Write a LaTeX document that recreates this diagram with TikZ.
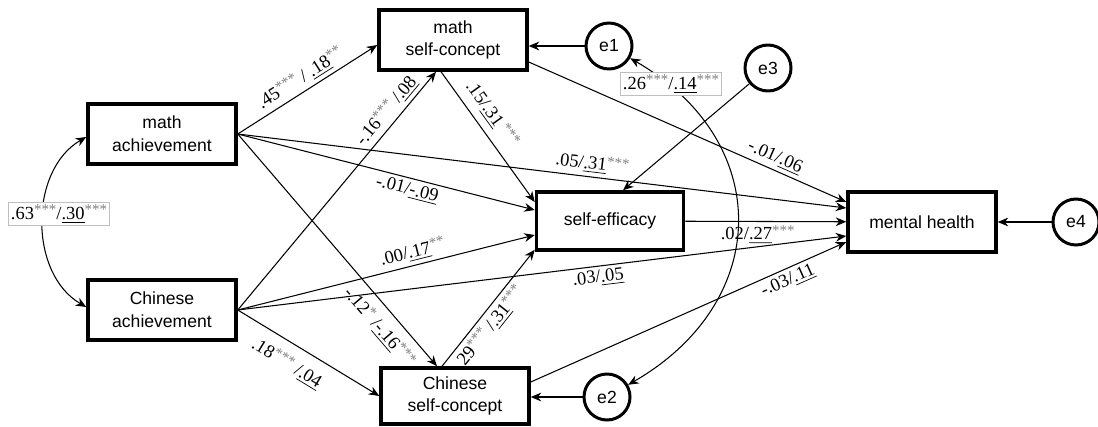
\documentclass[tikz,border=0pt]{standalone}
\usepackage{fontspec}
\setmainfont{Liberation Serif}
\setsansfont{Liberation Sans}
\usetikzlibrary{arrows.meta,calc}
\newcommand{\st}[1]{\raisebox{.55ex}{\fontsize{8.5}{9}\selectfont\textcolor{gray}{#1}}}
\newcommand{\ul}[1]{\underline{#1}}

\begin{document}
\begin{tikzpicture}[x=0.02cm,y=-0.02cm,
		var/.style={rectangle,draw,line width=2pt,minimum width=2.96cm,minimum height=1.2cm,
			align=center,inner sep=1pt,font=\sffamily\fontsize{10}{13}\selectfont},
		err/.style={circle,draw,line width=1.7pt,minimum size=0.92cm,inner sep=0pt,
			font=\sffamily\fontsize{10}{11}\selectfont},
		reg/.style={-{Stealth[length=6pt,width=5pt]},line width=0.6pt},
		cov/.style={{Stealth[length=6pt,width=5pt]}-{Stealth[length=6pt,width=5pt]},line width=0.6pt},
		coef/.style={sloped,inner sep=2pt,font=\fontsize{10.5}{12}\selectfont},
		covlbl/.style={draw=black!25,fill=white,line width=0.4pt,inner sep=1.5pt,
			font=\fontsize{10.5}{12}\selectfont}]
		\useasboundingbox (0,0) rectangle (1098,426);

		\node[var] (MA) at (162,134) {math\\achievement};
		\node[var] (CA) at (162,310) {Chinese\\achievement};
		\node[var] (MSC) at (453,40) {math\\self-concept};
		\node[var,minimum height=1.12cm] (CSC) at (455,396) {Chinese\\self-concept};
		\node[var,minimum width=2.94cm,minimum height=1.16cm] (SE) at (610,221) {self-efficacy};
		\node[var] (MH) at (922,222) {mental health};

		\node[err] (e1) at (609,46) {e1};
		\node[err] (e2) at (607,397) {e2};
		\node[err] (e3) at (768,68) {e3};
		\node[err] (e4) at (1076,222) {e4};

		% paths from math achievement
		\draw[reg] (MA.east) -- ($(MSC.west)+(0,5)$)
			node[coef,above,pos=.5] (l1) {.45\st{***} / \ul{.18}\st{**}};
		\draw[reg] (MA.east) -- ($(MH.west)+(0,-14)$)
			node[coef,above,pos=.58] (l5) {.05/\ul{.31}\st{***}};
		\draw[reg] (MA.east) -- ($(SE.west)+(0,-11)$)
			node[coef,below,pos=.58] (l6) {-.01/\ul{-.09}};
		\draw[reg] (MA.east) -- ($(CSC.north)+(-18,0)$)
			node[coef,below,pos=.78,yshift=-3pt] (l12) {-.12\st{*} /\ul{-.16}\st{***}};

		% paths from Chinese achievement
		\draw[reg] (CA.east) -- ($(MSC.south)+(-17,0)$)
			node[coef,above,pos=.8] (l2) {-.16\st{***} /\ul{.08}};
		\draw[reg] (CA.east) -- ($(SE.west)+(0,14)$)
			node[coef,above,pos=.6] (l7) {.00/\ul{.17}\st{**}};
		\draw[reg] (CA.east) -- ($(MH.west)+(0,14)$)
			node[coef,below,pos=.59] (l8) {.03/\ul{.05}};
		\draw[reg] (CA.east) -- (CSC.west)
			node[coef,below,pos=.42,yshift=-4pt] (l11) {.18\st{***} /\ul{.04}};

		% mediators
		\draw[reg] ($(MSC.south)+(-12,0)$) -- ($(SE.west)+(0,-19)$)
			node[coef,above,pos=.4,yshift=2pt] (l3) {.15/\ul{.31}\,\st{***}};
		\draw[reg] ($(CSC.north)+(-13,0)$) -- ($(SE.south west)+(0,-2)$)
			node[coef,below,pos=.4] (l13) {.29\st{***} /\ul{.31}\st{***}};
		\draw[reg] ($(MSC.east)+(0,22)$) -- ($(MH.west)+(0,-20)$)
			node[coef,above,pos=.76] (l4) {-.01/\ul{.06}};
		\draw[reg] ($(CSC.east)+(0,-14)$) -- ($(MH.west)+(0,20)$)
			node[coef,below,pos=.8] (l10) {-.03/\ul{.11}};
		\draw[reg] (SE) -- (MH)
			node[coef,below,pos=.45] (l9) {.02/\ul{.27}\st{***}};

		% residuals
		\draw[reg] (e1) -- (MSC.east |- e1);
		\draw[reg] (e2) -- (CSC.east |- e2);
		\draw[reg] (e3) -- ($(SE.north)+(13,0)$);
		\draw[reg] (e4) -- (MH);

		% covariances
		\draw[cov] ($(MA.west)+(0,3)$) to[bend right=60] ($(CA.west)+(0,-3)$);
		\draw[cov] (e1) to[out=-30,in=30,looseness=1.3] (e2);
		\node[covlbl] (r1) at (59,214) {.63\st{***}/\ul{.30}\st{***}};
		\node[covlbl] (r2) at (671,84) {.26\st{***}/\ul{.14}\st{***}};
	\end{tikzpicture}
\end{document}
